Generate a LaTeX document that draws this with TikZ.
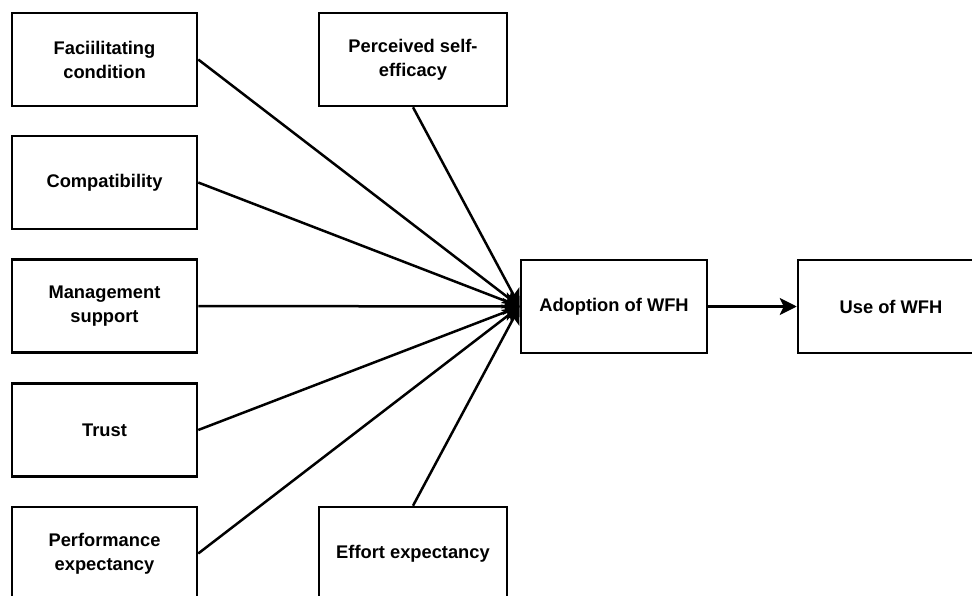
\documentclass[tikz,border=0pt]{standalone}
\usepackage{fontspec}
\setmainfont{Liberation Sans}
\usetikzlibrary{arrows.meta}
\begin{document}
\begin{tikzpicture}[x=1pt,y=-1pt]
\tikzstyle{every node}+=[font=\bfseries\fontsize{18.3}{24}\selectfont]
\tikzstyle{factor}=[draw,line width=2.5pt,minimum width=185pt,minimum height=93pt,align=center,inner sep=0pt]
\tikzstyle{link}=[line width=2.5pt,-{Stealth[length=17pt,width=17pt,inset=4pt]}]
\useasboundingbox (0,0) rectangle (972,596);
% left column
\node [factor] (fac) at (104.5,59.5) {Faciilitating\\condition};
\node [factor] (comp) at (104.5,182.5) {Compatibility};
\node [factor] (mgmt) at (104.5,306) {Management\\support};
\node [factor] (trust) at (104.5,430) {Trust};
\node [factor] (perf) at (104.5,553.5) {Performance\\expectancy};
% middle column
\node [factor,minimum width=188pt] (self) at (413,59.5) {Perceived self-\\efficacy};
\node [factor,minimum width=188pt] (effort) at (413,553.5) {Effort expectancy};
% outcome
\node [factor,minimum width=186pt] (adopt) at (614,306.5) {Adoption of WFH};
\node [factor,minimum width=186pt] (use) at (891,306.5) {Use of WFH};
% connectors
\draw [link] (fac.east) -- (adopt.west);
\draw [link] (comp.east) -- (adopt.west);
\draw [link] (mgmt.east) -- (adopt.west);
\draw [link] (trust.east) -- (adopt.west);
\draw [link] (perf.east) -- (adopt.west);
\draw [link] (self.south) -- (adopt.west);
\draw [link] (effort.north) -- (adopt.west);
\draw [link] (adopt.east) -- (use.west);
\end{tikzpicture}
\end{document}
